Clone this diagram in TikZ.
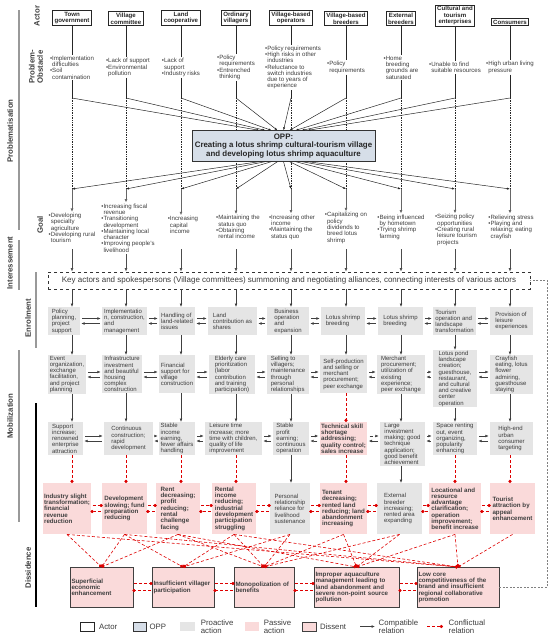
\documentclass[tikz,border=0pt]{standalone}
\usepackage{fontspec}
\setmainfont{Liberation Sans}
\usepackage{tikz}
\usetikzlibrary{
    arrows.meta,
    calc,
    positioning
}

\definecolor{oppblue}{RGB}{214,222,232}
\definecolor{progray}{RGB}{229,229,229}
\definecolor{paspink}{RGB}{250,218,218}
\definecolor{conred}{RGB}{222,0,0}
\definecolor{txtgray}{RGB}{60,60,60}
\newcommand{\bul}{\textbullet}
\newcommand{\ctd}{\phantom{\textbullet}}

\tikzset{
    actor/.style={draw=black!85, line width=0.8pt, fill=white, align=center, anchor=south,
        inner xsep=2pt, inner ysep=1.5pt, font=\fontsize{6.1}{6.5}\selectfont\bfseries, text=black!85},
    note/.style={align=left, inner sep=1pt, font=\fontsize{6.1}{6.3}\selectfont, text=txtgray},
    opp/.style={draw=black!80, line width=0.8pt, fill=oppblue, align=center, minimum width=183pt,
        minimum height=28pt, inner xsep=1pt, font=\fontsize{7.9}{8.3}\selectfont\bfseries, text=black!85},
    keybox/.style={draw=black!80, dashed, line width=0.9pt, minimum width=482pt, minimum height=17pt,
        font=\fontsize{8}{8.5}\selectfont, text=txtgray},
    proact/.style={fill=progray, align=left, anchor=north, inner xsep=1.5pt, inner ysep=1pt,
        font=\fontsize{6}{6.2}\selectfont, text=txtgray},
    passact/.style={proact, fill=paspink, font=\fontsize{6.2}{6.3}\selectfont\bfseries, text=black!75},
    dissent/.style={passact, draw=black!75, line width=0.8pt, minimum height=40pt},
    arr/.style={draw=black!75, line width=0.6pt, -{Latex[length=3.5pt,width=2.8pt]}},
    garr/.style={draw=black!60, line width=1pt, -{Latex[length=3.5pt,width=3pt]}},
    toopp/.style={draw=black!85, line width=0.5pt, -{Latex[length=3pt,width=2.2pt]}},
    conf/.style={draw=conred, densely dashed, line width=0.6pt, -{Circle[length=3.2pt]}},
    phase/.style={rotate=90, align=center, font=\fontsize{7.8}{8.3}\selectfont\bfseries, text=black!75},
    bar/.style={draw=black!40, line width=1.2pt},
    lgtext/.style={align=left, inner sep=0.5pt, font=\fontsize{7.8}{7.8}\selectfont, text=txtgray}
}

\begin{document}
\begin{tikzpicture}[x=1pt, y=-1pt]
\useasboundingbox (0,0) rectangle (550,638);

% phases
\draw[bar] (19,10) -- (19,230);
\node[phase] (ph1) at (10,131) {Problematisation};
\draw[bar] (19,240) -- (19,290);
\node[phase] (ph2) at (10,263) {Interessement};
\draw[bar] (36,272) -- (36,348);
\node[phase] (ph3) at (28,318) {Enrolment};
\draw[bar] (19,350) -- (19,522);
\node[phase] (ph4) at (10,416) {Mobilization};
\draw[bar, draw=black, line width=1.5pt] (36,403) -- (36,607);
\node[phase] (ph5) at (28,568) {Dissidence};
\node[phase] (lb1) at (37,16) {Actor};
\node[phase] (lb2) at (36,67) {Problem-\\Obstacle};
\node[phase] (lb3) at (40,225) {Goal};

\foreach \i/\x in {1/72,2/126,3/181,4/236,5/291,6/346,7/401,8/455,9/510} {
    \coordinate (col\i) at (\x,0);
    \coordinate (t\i) at (\x,98);
    \coordinate (m\i) at (\x,189);
}
\coordinate (rw1) at (0,321);
\coordinate (rw2) at (0,374.5);
\coordinate (rw3) at (0,438.5);
\coordinate (rw4) at (0,508.5);
\coordinate (rw5) at (0,587);

% actors
\node[actor] (a1) at (72,26) {Town\\government};
\node[actor] (a2) at (126,26) {Village\\committee};
\node[actor] (a3) at (181,26) {Land\\cooperative};
\node[actor] (a4) at (236,26) {Ordinary\\villagers};
\node[actor] (a5) at (291,26) {Village-based\\operators};
\node[actor] (a6) at (346,26) {Village-based\\breeders};
\node[actor] (a7) at (401,26) {External\\breeders};
\node[actor] (a8) at (455,27) {Cultural and\\tourism\\enterprises};
\node[actor] (a9) at (510,26) {Consumers};

% problem-obstacle
\node[note] (p1) at (72,67.5) {\bul Implementation\\\ctd difficulties\\\bul Soil\\\ctd contamination};
\node[note] (p2) at (128,67.5) {\bul Lack of support\\\bul Environmental\\\ctd pollution};
\node[note] (p3) at (181,67.5) {\bul Lack of\\\ctd support\\\bul Industry risks};
\node[note] (p4) at (236,67.5) {\bul Policy\\\ctd requirements\\\bul Entrenched\\\ctd thinking};
\node[note] (p5) at (293,67.5) {\bul Policy requirements\\\bul High risks in other\\\ctd industries\\\bul Reluctance to\\\ctd switch industries\\\ctd due to years of\\\ctd experience};
\node[note] (p6) at (346,67.5) {\bul Policy\\\ctd requirements};
\node[note] (p7) at (401,67.5) {\bul Home\\\ctd breeding\\\ctd grounds are\\\ctd saturated};
\node[note] (p8) at (455,67.5) {\bul Unable to find\\\ctd suitable resources};
\node[note] (p9) at (510,67.5) {\bul High urban living\\\ctd pressure};

\foreach \i in {1,...,9} {
    \draw[line width=0.7pt, black!85] (a\i.south) -- (p\i.north -| col\i);
    \draw[line width=0.7pt, black!85] (p\i.south -| col\i) -- (t\i);
    \draw[densely dotted, line width=0.7pt, black!85] (t\i) -- (m\i);
}

% obligatory passage point
\node[opp] (opp) at (283.5,146) {OPP:\\Creating a lotus shrimp cultural-tourism village\\and developing lotus shrimp aquaculture};

\foreach \i/\d in {1/-24,2/-18,3/-12,4/-6,5/0,6/6,7/12,8/18,9/24} {
    \draw[toopp] (t\i) -- ($(opp.north)+(\d,0)$);
    \draw[toopp] ($(opp.south)+(\d,0)$) -- (m\i);
}

% goals
\node[note] (g1) at (72,228) {\bul Developing\\\ctd specialty\\\ctd agriculture\\\bul Developing rural\\\ctd tourism};
\node[note] (g2) at (128,228) {\bul Increasing fiscal\\\ctd revenue\\\bul Transitioning\\\ctd development\\\bul Maintaining local\\\ctd character\\\bul Improving people's\\\ctd livelihood};
\node[note] (g3) at (183,225) {\bul Increasing\\\ctd capital\\\ctd income};
\node[note] (g4) at (238,227) {\bul Maintaining the\\\ctd status quo\\\bul Obtaining\\\ctd rental income};
\node[note] (g5) at (292,227) {\bul Increasing other\\\ctd income\\\bul Maintaining the\\\ctd status quo};
\node[note] (g6) at (346,228) {\bul Capitalizing on\\\ctd policy\\\ctd dividends to\\\ctd breed lotus\\\ctd shrimp};
\node[note] (g7) at (401,227) {\bul Being influenced\\\ctd by hometown\\\bul Trying shrimp\\\ctd farming};
\node[note] (g8) at (456,230) {\bul Seizing policy\\\ctd opportunities\\\bul Creating rural\\\ctd leisure tourism\\\ctd projects};
\node[note] (g9) at (511,227) {\bul Relieving stress\\\bul Playing and\\\ctd relaxing; eating\\\ctd crayfish};

\foreach \i in {1,...,9}
    \draw[garr] (m\i) -- (g\i.north -| col\i);

% interessement
\node[keybox] (key) at (289,280.5) {Key actors and spokespersons (Village committees) summoning and negotiating alliances, connecting interests of various actors};

\foreach \i/\s in {1/249,2/254,3/249,4/249,5/249,6/249,7/249,8/249,9/249}
    \draw[garr, draw=black!70] ($(col\i)+(0,\s)$) -- (key.north -| col\i);

% enrolment
\node[proact, minimum width=32pt, minimum height=28pt] (r1c1) at (64,307) {Policy\\planning,\\project\\support};
\node[proact, minimum width=45pt, minimum height=28pt] (r1c2) at (124.5,307) {Implementatio\\n, construction,\\and\\management};
\node[proact, minimum width=36pt, minimum height=28pt] (r1c3) at (177,307) {Handling of\\land-related\\issues};
\node[proact, minimum width=49pt, minimum height=28pt] (r1c4) at (232.5,307) {Land\\contribution as\\shares};
\node[proact, minimum width=42pt, minimum height=28pt] (r1c5) at (288,307) {Business\\operation\\and\\expansion};
\node[proact, minimum width=44pt, minimum height=28pt] (r1c6) at (343,307) {Lotus shrimp\\breeding};
\node[proact, minimum width=45pt, minimum height=28pt] (r1c7) at (400.5,307) {Lotus shrimp\\breeding};
\node[proact, minimum width=43pt, minimum height=28pt] (r1c8) at (454.5,307) {Tourism\\operation and\\landscape\\transformation};
\node[proact, minimum width=43pt, minimum height=28pt] (r1c9) at (511.5,307) {Provision of\\leisure\\experiences};

% mobilization
\node[proact, minimum width=38pt, minimum height=38pt] (r2c1) at (67,355) {Event\\organization,\\exchange\\facilitation,\\and project\\planning};
\node[proact, minimum width=40pt, minimum height=38pt] (r2c2) at (122,355) {Infrastructure\\investment\\and beautiful\\housing\\complex\\construction};
\node[proact, minimum width=36pt, minimum height=38pt] (r2c3) at (177,355) {Financial\\support for\\village\\construction};
\node[proact, minimum width=46pt, minimum height=38pt] (r2c4) at (232,355) {Elderly care\\prioritization\\(labor\\contribution\\and training\\participation)};
\node[proact, minimum width=42pt, minimum height=38pt] (r2c5) at (288,355) {Selling to\\villagers;\\maintenance\\through\\personal\\relationships};
\node[proact, minimum width=47pt, minimum height=38pt] (r2c6) at (343.5,355) {Self-production\\and selling or\\merchant\\procurement;\\peer exchange};
\node[proact, minimum width=48pt, minimum height=38pt] (r2c7) at (401,355) {Merchant\\procurement;\\utilization of\\existing\\experience;\\peer exchange};
\node[proact, minimum width=44pt, minimum height=38pt] (r2c8) at (455,350) {Lotus pond\\landscape\\creation;\\guesthouse,\\restaurant,\\and cultural\\and creative\\center\\operation};
\node[proact, minimum width=43pt, minimum height=38pt] (r2c9) at (511.5,355) {Crayfish\\eating, lotus\\flower\\admiring,\\guesthouse\\staying};

\node[proact, minimum width=35pt, minimum height=33pt] (r3c1) at (65.5,422) {Support\\increase;\\renowned\\enterprise\\attraction};
\node[proact, minimum width=49pt, minimum height=33pt] (r3c2) at (128.5,422) {Continuous\\construction;\\rapid\\development};
\node[proact, minimum width=36pt, minimum height=33pt] (r3c3) at (177,422) {Stable\\income\\earning,\\fewer affairs\\handling};
\node[proact, minimum width=57pt, minimum height=33pt] (r3c4) at (233.5,422) {Leisure time\\increase; more\\time with children,\\quality of life\\improvement};
\node[proact, minimum width=36pt, minimum height=33pt] (r3c5) at (291,422) {Stable\\profit\\earning;\\continuous\\operation};
\node[passact, minimum width=47pt, minimum height=33pt] (r3c6) at (343.5,422) {Technical skill\\shortage\\addressing;\\quality control;\\sales increase};
\node[proact, minimum width=45pt, minimum height=33pt] (r3c7) at (402.5,422) {Large\\investment\\making; good\\technique\\application;\\good benefit\\achievement};
\node[proact, minimum width=44pt, minimum height=33pt] (r3c8) at (455,422) {Space renting\\out, event\\organizing,\\popularity\\enhancing};
\node[proact, minimum width=43pt, minimum height=33pt] (r3c9) at (511.5,422) {High-end\\urban\\consumer\\targeting};

\node[passact, minimum width=48pt, minimum height=51pt] (r4c1) at (67,483) {Industry slight\\transformation;\\financial\\revenue\\reduction};
\node[passact, minimum width=45pt, minimum height=51pt] (r4c2) at (124.5,483) {Development\\slowing; fund\\preparation\\reducing};
\node[passact, minimum width=44pt, minimum height=51pt] (r4c3) at (178,483) {Rent\\decreasing;\\profit\\reducing;\\rental\\challenge\\facing};
\node[passact, minimum width=44pt, minimum height=51pt] (r4c4) at (234,483) {Rental\\income\\reducing;\\industrial\\development\\participation\\struggling};
\node[proact, minimum width=40pt, minimum height=51pt] (r4c5) at (290,483) {Personal\\relationship\\reliance for\\livelihood\\sustenance};
\node[passact, minimum width=47pt, minimum height=51pt] (r4c6) at (343.5,483) {Tenant\\decreasing;\\rented land\\reducing; land\\abandonment\\increasing};
\node[proact, minimum width=45pt, minimum height=51pt] (r4c7) at (399.5,483) {External\\breeder\\increasing;\\rented area\\expanding};
\node[passact, minimum width=52pt, minimum height=51pt] (r4c8) at (455,483) {Locational and\\resource\\advantage\\clarification;\\operation\\improvement;\\benefit increase};
\node[passact, minimum width=45pt, minimum height=51pt] (r4c9) at (512.5,483) {Tourist\\attraction by\\appeal\\enhancement};

% dissidence
\node[dissent, text width=60pt] (d1) at (101.5,567) {Superficial\\economic\\enhancement};
\node[dissent, text width=59pt] (d2) at (183,567) {Insufficient villager\\participation};
\node[dissent, text width=57pt] (d3) at (264,567) {Monopolization of\\benefits};
\node[dissent, text width=82pt] (d4) at (356.5,567) {Improper aquaculture\\management leading to\\land abandonment and\\severe non-point source\\pollution};
\node[dissent, text width=79pt] (d5) at (458,567) {Low core\\competitiveness of the\\brand and insufficient\\regional collaborative\\promotion};

% vertical relations
\foreach \i in {1,...,9} {
    \draw[arr] (key.south -| col\i) -- (r1c\i.north -| col\i);
    \draw[arr] (r1c\i.south -| col\i) -- (r2c\i.north -| col\i);
}
\foreach \i in {1,2,3,4,5,7,8,9}
    \draw[arr] (r2c\i.south -| col\i) -- (r3c\i.north -| col\i);
\draw[conf] (r2c6.south -| col6) -- (r3c6.north -| col6);
\foreach \i in {5,7}
    \draw[arr] (r3c\i.south -| col\i) -- (r4c\i.north -| col\i);
\foreach \i in {1,2,3,4,6,8,9}
    \draw[conf] (r3c\i.south -| col\i) -- (r4c\i.north -| col\i);

% horizontal relations
\foreach \r in {1,2} {
    \foreach \i [evaluate=\i as \j using int(\i+1)] in {1,...,8} {
        \draw[arr] ($(r\r c\i.east |- rw\r)+(2,-2.5)$) -- ($(r\r c\j.west |- rw\r)+(-1,-2.5)$);
        \draw[arr] ($(r\r c\j.west |- rw\r)+(-2,2.5)$) -- ($(r\r c\i.east |- rw\r)+(1,2.5)$);
    }
}
\foreach \i [evaluate=\i as \j using int(\i+1)] in {1,2,3,4,7,8} {
    \draw[arr] ($(r3c\i.east |- rw3)+(2,-2.5)$) -- ($(r3c\j.west |- rw3)+(-1,-2.5)$);
    \draw[arr] ($(r3c\j.west |- rw3)+(-2,2.5)$) -- ($(r3c\i.east |- rw3)+(1,2.5)$);
}
\draw[arr] ($(r3c5.east |- rw3)+(2,-2.5)$) -- ($(r3c6.west |- rw3)+(-1,-2.5)$);
\draw[arr, densely dashed] ($(r3c6.west |- rw3)+(-2,2.5)$) -- ($(r3c5.east |- rw3)+(1,2.5)$);
\draw[arr, densely dashed] ($(r3c6.east |- rw3)+(2,-2.5)$) -- ($(r3c7.west |- rw3)+(-1,-2.5)$);
\draw[arr] ($(r3c7.west |- rw3)+(-2,2.5)$) -- ($(r3c6.east |- rw3)+(1,2.5)$);

\foreach \i [evaluate=\i as \j using int(\i+1)] in {1,...,8} {
    \draw[conf] ($(r4c\i.east |- rw4)+(1,-3)$) -- ($(r4c\j.west |- rw4)+(1,-3)$);
    \draw[conf] ($(r4c\j.west |- rw4)+(-1,3)$) -- ($(r4c\i.east |- rw4)+(-1,3)$);
}
\foreach \i [evaluate=\i as \j using int(\i+1)] in {1,...,4} {
    \draw[conf] ($(d\i.east |- rw5)+(1,-3.5)$) -- ($(d\j.west |- rw5)+(1,-3.5)$);
    \draw[conf] ($(d\j.west |- rw5)+(-1,3.5)$) -- ($(d\i.east |- rw5)+(-1,3.5)$);
}

% dissent relations
\foreach \i/\j in {1/1,1/5,2/1,2/2,2/5,3/1,3/3,3/4,4/2,4/3,4/5,5/2,5/3,6/3,6/4,7/3,7/4,8/4,8/5,9/5}
    \draw[conf] (r4c\i.south) -- (d\j.north);

\draw[black!50, line width=0.7pt, dash pattern=on 2pt off 1.5pt] (d5.east) -- ++(48,0) |- (key.east);

% legend
\node[draw=black!85, line width=0.7pt, fill=white, minimum width=14pt, minimum height=9pt, inner sep=0pt] (lg1) at (87,626.5) {};
\node[lgtext, right=4pt of lg1] (lg1t) {Actor};
\node[draw=black!80, line width=0.7pt, fill=oppblue, minimum width=13pt, minimum height=9pt, inner sep=0pt] (lg2) at (139.5,626.5) {};
\node[lgtext, right=2.5pt of lg2] (lg2t) {OPP};
\node[fill=progray, minimum width=15pt, minimum height=9pt, inner sep=0pt] (lg3) at (187.5,626.5) {};
\node[lgtext, right=5pt of lg3] (lg3t) {Proactive\\action};
\node[fill=paspink, minimum width=14pt, minimum height=9pt, inner sep=0pt] (lg4) at (252,626.5) {};
\node[lgtext, right=4pt of lg4] (lg4t) {Passive\\action};
\node[draw=black!75, line width=0.7pt, fill=paspink, minimum width=14pt, minimum height=9pt, inner sep=0pt] (lg5) at (309,626.5) {};
\node[lgtext, right=3pt of lg5] (lg5t) {Dissent};
\coordinate (lgc1) at (360,626.5);
\coordinate (lgc2) at (375,626.5);
\draw[arr] (lgc1) -- (lgc2);
\node[lgtext, right=3pt of lgc2] (lg6t) {Compatible\\relation};
\coordinate (lgd1) at (427,626.5);
\coordinate (lgd2) at (443,626.5);
\draw[conf] (lgd1) -- (lgd2);
\node[lgtext, right=5pt of lgd2] (lg7t) {Conflictual\\relation};
\end{tikzpicture}
\end{document}
